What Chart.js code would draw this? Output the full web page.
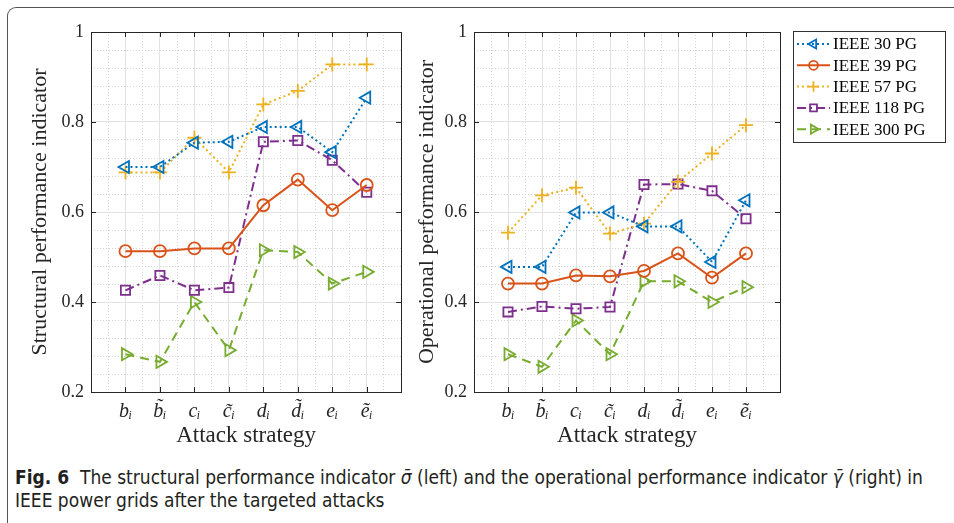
<!DOCTYPE html>
<html><head><meta charset="utf-8">
<script src="https://cdn.jsdelivr.net/npm/chart.js@4.4.1/dist/chart.umd.min.js"></script>
<style>
html,body{margin:0;padding:0;background:#fff;width:954px;height:523px;overflow:hidden;position:relative;}
#frame{position:absolute;left:7px;top:7px;width:980px;height:540px;border-top:1.5px solid #555;border-left:1.5px solid #555;border-top-left-radius:9px;}
#c1{position:absolute;left:0;top:0;}
#c2{position:absolute;left:400px;top:0;}
#cap{position:absolute;left:15px;top:466px;font-family:"Liberation Sans Narrow","DejaVu Sans Condensed",sans-serif;font-size:19px;line-height:23px;color:#231f20;white-space:nowrap;}
#cap b{font-weight:bold;}
</style></head>
<body>
<div id="frame"></div>
<canvas id="c1" width="410" height="460"></canvas>
<canvas id="c2" width="554" height="460"></canvas>
<div id="cap"><b>Fig. 6</b>&nbsp; The structural performance indicator <i>σ̄</i> (left) and the operational performance indicator <i>γ̄</i> (right) in<br>IEEE power grids after the targeted attacks</div>
<script>
// ---- data ----
const categories = ['b\u1D62','b\u0303\u1D62','c\u1D62','c\u0303\u1D62','d\u1D62','d\u0303\u1D62','e\u1D62','e\u0303\u1D62'];
const seriesNames = ['IEEE 30 PG','IEEE 39 PG','IEEE 57 PG','IEEE 118 PG','IEEE 300 PG'];
const yTickValues = [0.2, 0.4, 0.6, 0.8, 1];
const yTickLabels = ['0.2', '0.4', '0.6', '0.8', '1'];

const structural30  = [0.700, 0.700, 0.754, 0.756, 0.789, 0.789, 0.733, 0.854];
const structural39  = [0.513, 0.513, 0.519, 0.519, 0.615, 0.672, 0.604, 0.660];
const structural57  = [0.688, 0.688, 0.765, 0.688, 0.839, 0.869, 0.928, 0.928];
const structural118 = [0.426, 0.459, 0.426, 0.432, 0.756, 0.759, 0.715, 0.644];
const structural300 = [0.284, 0.267, 0.400, 0.293, 0.515, 0.511, 0.441, 0.467];

const operational30  = [0.478, 0.478, 0.599, 0.599, 0.568, 0.568, 0.489, 0.626];
const operational39  = [0.441, 0.441, 0.459, 0.457, 0.469, 0.508, 0.454, 0.508];
const operational57  = [0.554, 0.637, 0.654, 0.552, 0.574, 0.667, 0.730, 0.793];
const operational118 = [0.378, 0.390, 0.385, 0.389, 0.661, 0.662, 0.647, 0.585];
const operational300 = [0.284, 0.256, 0.359, 0.284, 0.446, 0.446, 0.400, 0.433];

// ---- styles ----
const SERIF = '"Liberation Serif","DejaVu Serif",serif';
const TXT = '#262626';
const styles = [
  {color:'#0072BD', dash:[2,3],       pointStyle:'triangle', rotation:-90, radius:7},
  {color:'#D95319', dash:[],          pointStyle:'circle',   rotation:0,   radius:6},
  {color:'#EDB120', dash:[2,3],       pointStyle:'cross',    rotation:0,   radius:7},
  {color:'#7E2F8E', dash:[9,4,2,4],   pointStyle:'rect',     rotation:0,   radius:6.5},
  {color:'#77AC30', dash:[9,6],       pointStyle:'triangle', rotation:90,  radius:7}
];
const xGrid = Array.from({length:19}, (_, k) => k * 0.5);
const yGrid = Array.from({length:21}, (_, k) => +(0.2 + 0.04 * k).toFixed(2));
const isXMajor = v => Math.abs(v - Math.round(v)) < 1e-6;
const isYMajor = v => yTickValues.some(t => Math.abs(t - v) < 1e-6);

function makeDatasets(list){
  return list.map((vals, k) => ({
    label: seriesNames[k],
    data: vals.map((v, i) => ({x: i + 1, y: v})),
    borderColor: styles[k].color,
    backgroundColor: 'rgba(0,0,0,0)',
    borderWidth: 2,
    borderDash: styles[k].dash,
    pointStyle: styles[k].pointStyle,
    pointRotation: styles[k].rotation,
    pointRadius: styles[k].radius,
    pointBorderWidth: 1.8,
    pointBorderColor: styles[k].color,
    pointBackgroundColor: 'rgba(0,0,0,0)',
    tension: 0, fill: false
  }));
}

function scalesCfg(yTitle, yWidth, yTitlePad){
  return {
    x: {
      type:'linear', min:0, max:9,
      afterBuildTicks: s => { s.ticks = xGrid.map(v => ({value:v})); },
      ticks:{autoSkip:false, maxRotation:0, padding:8, color:TXT,
        font:{family:SERIF, size:20, style:'italic'},
        callback: v => { const i = Math.round(v); return (isXMajor(v) && i >= 1 && i <= categories.length) ? categories[i-1] : ''; }},
      grid:{drawTicks:false, lineWidth:1, color: c => (c.tick && isXMajor(c.tick.value)) ? '#e2e2e2' : '#d4d4d4'},
      border:{display:false, dash: c => (c.tick && !isXMajor(c.tick.value)) ? [1,2] : []},
      title:{display:true, text:'Attack strategy', color:TXT, font:{family:SERIF, size:23}, padding:{top:0, bottom:10}},
      afterFit: s => { s.height = 68; }
    },
    y: {
      type:'linear', min:0.2, max:1,
      afterBuildTicks: s => { s.ticks = yGrid.map(v => ({value:v})); },
      ticks:{autoSkip:false, padding:7, color:TXT, font:{family:SERIF, size:18},
        callback: v => { const i = yTickValues.findIndex(t => Math.abs(t - v) < 1e-6); return i >= 0 ? yTickLabels[i] : ''; }},
      grid:{drawTicks:false, lineWidth:1, color: c => (c.tick && isYMajor(c.tick.value)) ? '#e2e2e2' : '#d4d4d4'},
      border:{display:false, dash: c => (c.tick && !isYMajor(c.tick.value)) ? [1,2] : []},
      title:{display:true, text:yTitle, color:TXT, font:{family:SERIF, size:22}, padding:{top:yTitlePad, bottom:0}},
      afterFit: s => { s.width = yWidth; }
    }
  };
}

const boxPlugin = {
  id:'boxPlugin',
  afterDraw(chart){
    const {ctx, chartArea:a, scales} = chart;
    ctx.save();
    ctx.strokeStyle = '#262626'; ctx.lineWidth = 1; ctx.setLineDash([]);
    ctx.strokeRect(Math.round(a.left)+0.5, Math.round(a.top)+0.5, Math.round(a.right-a.left), Math.round(a.bottom-a.top));
    const L = 5;
    ctx.beginPath();
    for (let i = 1; i <= categories.length; i++){
      const x = Math.round(scales.x.getPixelForValue(i)) + 0.5;
      ctx.moveTo(x, a.bottom); ctx.lineTo(x, a.bottom - L);
      ctx.moveTo(x, a.top); ctx.lineTo(x, a.top + L);
    }
    yTickValues.forEach(v => {
      const y = Math.round(scales.y.getPixelForValue(v)) + 0.5;
      ctx.moveTo(a.left, y); ctx.lineTo(a.left + L, y);
      ctx.moveTo(a.right, y); ctx.lineTo(a.right - L, y);
    });
    ctx.stroke();
    ctx.restore();
  }
};

// legend drawn beside the right-hand plot area (space reserved by layout padding)
const legendPlugin = {
  id:'legendPlugin',
  afterDraw(chart){
    const {ctx, chartArea:a} = chart;
    const bx = Math.round(a.right) + 13, by = Math.round(a.top) - 1;
    const bwid = 152, rowH = 21.3, n = chart.data.datasets.length;
    const bh = Math.round(rowH * (n - 1) + 26);
    ctx.save();
    ctx.fillStyle = '#fff';
    ctx.fillRect(bx, by, bwid, bh);
    chart.data.datasets.forEach((d, k) => {
      const st = styles[k];
      const cy = by + 13 + k * rowH;
      const tx = bx + 40;
      ctx.strokeStyle = st.color; ctx.lineWidth = 2; ctx.setLineDash(st.dash);
      ctx.beginPath(); ctx.moveTo(tx - 36, cy); ctx.lineTo(tx - 3, cy); ctx.stroke();
      ctx.setLineDash([]);
      ctx.fillStyle = 'rgba(0,0,0,0)';
      ctx.lineWidth = 1.8;
      if (Chart.helpers && Chart.helpers.drawPoint) {
        Chart.helpers.drawPoint(ctx, {pointStyle:st.pointStyle, rotation:st.rotation, radius:st.radius*0.75, borderWidth:1.8}, tx - 19.5, cy);
      }
      ctx.fillStyle = '#000';
      ctx.font = '17px ' + SERIF;
      ctx.textBaseline = 'middle'; ctx.textAlign = 'left';
      ctx.fillText(d.label, tx, cy + 1);
    });
    ctx.strokeStyle = '#333'; ctx.lineWidth = 1;
    ctx.strokeRect(bx + 0.5, by + 0.5, bwid, bh);
    ctx.restore();
  }
};

Chart.defaults.font.family = SERIF;

new Chart(document.getElementById('c1'), {
  type:'line',
  data:{datasets: makeDatasets([structural30, structural39, structural57, structural118, structural300])},
  options:{
    responsive:false, animation:false, devicePixelRatio:1,
    layout:{padding:{left:10, top:32, right:8, bottom:0}},
    plugins:{legend:{display:false}, tooltip:{enabled:false}},
    scales: scalesCfg('Structural performance indicator', 81, 17)
  },
  plugins:[boxPlugin]
});

new Chart(document.getElementById('c2'), {
  type:'line',
  data:{datasets: makeDatasets([operational30, operational39, operational57, operational118, operational300])},
  options:{
    responsive:false, animation:false, devicePixelRatio:1,
    layout:{padding:{left:0, top:32, right:174, bottom:0}},
    plugins:{legend:{display:false}, tooltip:{enabled:false}},
    scales: scalesCfg('Operational performance indicator', 74, 14)
  },
  plugins:[boxPlugin, legendPlugin]
});
</script>
</body></html>
